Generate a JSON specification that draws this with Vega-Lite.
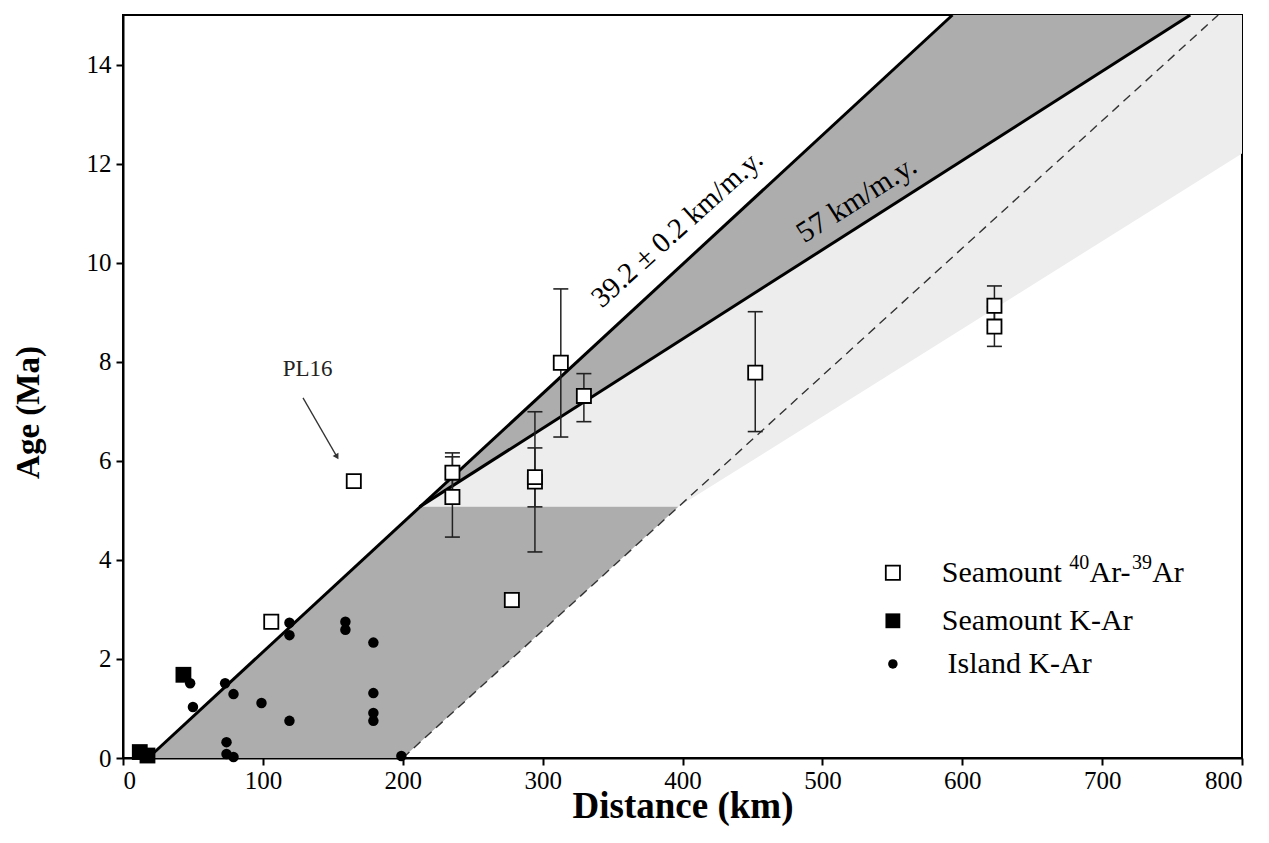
{
  "$schema": "https://vega.github.io/schema/vega-lite/v6.json",
  "width": 1119,
  "height": 743,
  "autosize": {"type": "none"},
  "padding": {"left": 123, "top": 15, "right": 27, "bottom": 85},
  "background": "white",
  "config": {
    "font": "Liberation Serif",
    "view": {"stroke": "black", "strokeWidth": 2},
    "axis": {
      "grid": false,
      "domainColor": "black",
      "domainWidth": 2,
      "tickColor": "black",
      "tickWidth": 2,
      "tickSize": 7,
      "labelFont": "Liberation Serif",
      "labelFontSize": 25,
      "labelColor": "black",
      "titleFont": "Liberation Serif",
      "titleFontWeight": "bold",
      "titleColor": "black"
    }
  },
  "datasets": {
    "regions": [
      {"region": "light", "km": 212, "lo": 5.07, "hi": 5.07},
      {"region": "light", "km": 397, "lo": 5.07, "hi": 8.403},
      {"region": "light", "km": 763, "lo": 11.548, "hi": 15},
      {"region": "light", "km": 800, "lo": 12.203, "hi": 15},
      {"region": "dark1", "km": 18, "lo": 0, "hi": 0},
      {"region": "dark1", "km": 200, "lo": 0, "hi": 4.748},
      {"region": "dark1", "km": 212, "lo": 0.309, "hi": 5.07},
      {"region": "dark1", "km": 397, "lo": 5.07, "hi": 5.07},
      {"region": "dark2", "km": 212, "lo": 5.07, "hi": 5.07},
      {"region": "dark2", "km": 593, "lo": 11.935, "hi": 15},
      {"region": "dark2", "km": 763, "lo": 15, "hi": 15}
    ],
    "lines": [
      {"line": "39.2", "km": 18, "age": 0},
      {"line": "39.2", "km": 593, "age": 15},
      {"line": "57", "km": 212, "age": 5.07},
      {"line": "57", "km": 763, "age": 15}
    ],
    "dashed": [
      {"km": 200, "age": 0},
      {"km": 783, "age": 15}
    ],
    "arar": [
      {"km": 106, "age": 2.75},
      {"km": 165, "age": 5.59},
      {"km": 278, "age": 3.19},
      {"km": 235.5, "age": 5.27, "lo": 4.46, "hi": 6.08},
      {"km": 235.5, "age": 5.76, "lo": 5.36, "hi": 6.16},
      {"km": 294.5, "age": 5.58, "lo": 4.16, "hi": 6.99},
      {"km": 294.5, "age": 5.67, "lo": 5.07, "hi": 6.26},
      {"km": 313, "age": 7.98, "lo": 6.48, "hi": 9.47},
      {"km": 329.5, "age": 7.31, "lo": 6.79, "hi": 7.76},
      {"km": 452, "age": 7.78, "lo": 6.59, "hi": 9.01},
      {"km": 623, "age": 9.13, "lo": 8.73, "hi": 9.53},
      {"km": 623, "age": 8.71, "lo": 8.31, "hi": 9.11}
    ],
    "kar": [
      {"km": 12, "age": 0.12},
      {"km": 17.5, "age": 0.05},
      {"km": 43.2, "age": 1.68}
    ],
    "island": [
      {"km": 48, "age": 1.51},
      {"km": 50, "age": 1.03},
      {"km": 73, "age": 1.51},
      {"km": 79, "age": 1.29},
      {"km": 99, "age": 1.11},
      {"km": 119, "age": 2.73},
      {"km": 119, "age": 2.48},
      {"km": 119, "age": 0.75},
      {"km": 159, "age": 2.75},
      {"km": 159, "age": 2.59},
      {"km": 179, "age": 2.33},
      {"km": 179, "age": 1.31},
      {"km": 179, "age": 0.91},
      {"km": 179, "age": 0.75},
      {"km": 74, "age": 0.32},
      {"km": 74, "age": 0.08},
      {"km": 79, "age": 0.02},
      {"km": 199, "age": 0.04}
    ],
    "legend": [
      {"kind": "open", "km": 550.4, "age": 3.74},
      {"kind": "filled", "km": 550.4, "age": 2.77},
      {"kind": "dot", "km": 550.4, "age": 1.9}
    ],
    "legendText": [
      {"part": "normal", "km": 585.4, "age": 3.74, "label": "Seamount"},
      {"part": "sup", "km": 676.5, "age": 3.74, "label": "40"},
      {"part": "normal", "km": 691.0, "age": 3.74, "label": "Ar-"},
      {"part": "sup", "km": 721.3, "age": 3.74, "label": "39"},
      {"part": "normal", "km": 735.8, "age": 3.74, "label": "Ar"},
      {"part": "normal", "km": 585.4, "age": 2.77, "label": "Seamount K-Ar"},
      {"part": "normal", "km": 589.5, "age": 1.9, "label": "Island K-Ar"}
    ],
    "arrow": [
      {"km": 128.7, "age": 7.27},
      {"km": 153, "age": 6.08}
    ]
  },
  "layer": [
    {
      "data": {"name": "regions"},
      "mark": {"type": "area", "opacity": 1},
      "encoding": {
        "x": {
          "field": "km", "type": "quantitative",
          "scale": {"domain": [0, 800], "nice": false, "zero": false},
          "axis": {"values": [0, 100, 200, 300, 400, 500, 600, 700, 800], "labelPadding": 3, "titleFontSize": 37, "titleY": 59, "titleBaseline": "alphabetic"},
          "title": "Distance (km)"
        },
        "y": {
          "field": "lo", "type": "quantitative",
          "scale": {"domain": [0, 15], "nice": false, "zero": false},
          "axis": {"values": [0, 2, 4, 6, 8, 10, 12, 14], "labelPadding": 5, "titleFontSize": 33, "titleAngle": -90, "titleX": -95, "titleY": 397, "titleAlign": "center", "titleBaseline": "middle"},
          "title": "Age (Ma)"
        },
        "y2": {"field": "hi"},
        "color": {"field": "region", "type": "nominal", "scale": {"domain": ["dark1", "dark2", "light"], "range": ["#adadad", "#adadad", "#ededed"]}, "legend": null}
      }
    },
    {
      "data": {"name": "dashed"},
      "mark": {"type": "line", "color": "#333333", "strokeWidth": 1.4, "strokeDash": [9, 6]},
      "encoding": {
        "x": {"field": "km", "type": "quantitative"},
        "y": {"field": "age", "type": "quantitative"}
      }
    },
    {
      "data": {"name": "lines"},
      "mark": {"type": "line", "color": "black", "strokeWidth": 3},
      "encoding": {
        "x": {"field": "km", "type": "quantitative"},
        "y": {"field": "age", "type": "quantitative"},
        "detail": {"field": "line", "type": "nominal"}
      }
    },
    {
      "data": {"name": "arrow"},
      "mark": {"type": "line", "color": "#333333", "strokeWidth": 1.3},
      "encoding": {
        "x": {"field": "km", "type": "quantitative"},
        "y": {"field": "age", "type": "quantitative"}
      }
    },
    {
      "data": {"name": "arrow"},
      "transform": [{"filter": "datum.age < 7"}],
      "mark": {"type": "point", "shape": "triangle-up", "angle": 150, "size": 45, "filled": true, "color": "#333333", "opacity": 1},
      "encoding": {
        "x": {"field": "km", "type": "quantitative"},
        "y": {"field": "age", "type": "quantitative"}
      }
    },
    {
      "data": {"name": "arar"},
      "transform": [{"filter": "isValid(datum.lo)"}],
      "mark": {"type": "rule", "color": "#222222", "strokeWidth": 1.5},
      "encoding": {
        "x": {"field": "km", "type": "quantitative"},
        "y": {"field": "lo", "type": "quantitative"},
        "y2": {"field": "hi"}
      }
    },
    {
      "data": {"name": "arar"},
      "transform": [{"filter": "isValid(datum.lo)"}],
      "mark": {"type": "tick", "orient": "horizontal", "size": 15, "thickness": 1.6, "color": "#222222", "opacity": 1},
      "encoding": {
        "x": {"field": "km", "type": "quantitative"},
        "y": {"field": "lo", "type": "quantitative"}
      }
    },
    {
      "data": {"name": "arar"},
      "transform": [{"filter": "isValid(datum.hi)"}],
      "mark": {"type": "tick", "orient": "horizontal", "size": 15, "thickness": 1.6, "color": "#222222", "opacity": 1},
      "encoding": {
        "x": {"field": "km", "type": "quantitative"},
        "y": {"field": "hi", "type": "quantitative"}
      }
    },
    {
      "data": {"name": "island"},
      "mark": {"type": "point", "shape": "circle", "filled": true, "color": "black", "size": 110, "opacity": 1},
      "encoding": {
        "x": {"field": "km", "type": "quantitative"},
        "y": {"field": "age", "type": "quantitative"}
      }
    },
    {
      "data": {"name": "kar"},
      "mark": {"type": "point", "shape": "square", "filled": true, "color": "black", "size": 250, "opacity": 1},
      "encoding": {
        "x": {"field": "km", "type": "quantitative"},
        "y": {"field": "age", "type": "quantitative"}
      }
    },
    {
      "data": {"name": "arar"},
      "mark": {"type": "point", "shape": "square", "fill": "white", "stroke": "black", "strokeWidth": 1.8, "size": 200, "opacity": 1, "fillOpacity": 1},
      "encoding": {
        "x": {"field": "km", "type": "quantitative"},
        "y": {"field": "age", "type": "quantitative"}
      }
    },
    {
      "data": {"values": [{"km": 400.5, "age": 10.55, "label": "39.2 ± 0.2 km/m.y."}]},
      "mark": {"type": "text", "font": "Liberation Serif", "fontSize": 29, "angle": -42, "align": "center", "baseline": "alphabetic", "color": "black"},
      "encoding": {
        "x": {"field": "km", "type": "quantitative"},
        "y": {"field": "age", "type": "quantitative"},
        "text": {"field": "label"}
      }
    },
    {
      "data": {"values": [{"km": 528, "age": 11.12, "label": "57 km/m.y."}]},
      "mark": {"type": "text", "font": "Liberation Serif", "fontSize": 30, "angle": -32.5, "align": "center", "baseline": "alphabetic", "color": "black"},
      "encoding": {
        "x": {"field": "km", "type": "quantitative"},
        "y": {"field": "age", "type": "quantitative"},
        "text": {"field": "label"}
      }
    },
    {
      "data": {"values": [{"km": 132, "age": 7.86, "label": "PL16"}]},
      "mark": {"type": "text", "font": "Liberation Serif", "fontSize": 23, "align": "center", "baseline": "middle", "color": "#222222"},
      "encoding": {
        "x": {"field": "km", "type": "quantitative"},
        "y": {"field": "age", "type": "quantitative"},
        "text": {"field": "label"}
      }
    },
    {
      "data": {"name": "legend"},
      "transform": [{"filter": "datum.kind == 'open'"}],
      "mark": {"type": "point", "shape": "square", "fill": "white", "stroke": "black", "strokeWidth": 1.8, "size": 200, "opacity": 1},
      "encoding": {
        "x": {"field": "km", "type": "quantitative"},
        "y": {"field": "age", "type": "quantitative"}
      }
    },
    {
      "data": {"name": "legend"},
      "transform": [{"filter": "datum.kind == 'filled'"}],
      "mark": {"type": "point", "shape": "square", "filled": true, "color": "black", "size": 220, "opacity": 1},
      "encoding": {
        "x": {"field": "km", "type": "quantitative"},
        "y": {"field": "age", "type": "quantitative"}
      }
    },
    {
      "data": {"name": "legend"},
      "transform": [{"filter": "datum.kind == 'dot'"}],
      "mark": {"type": "point", "shape": "circle", "filled": true, "color": "black", "size": 90, "opacity": 1},
      "encoding": {
        "x": {"field": "km", "type": "quantitative"},
        "y": {"field": "age", "type": "quantitative"}
      }
    },
    {
      "data": {"name": "legendText"},
      "transform": [{"filter": "datum.part == 'normal'"}],
      "mark": {"type": "text", "font": "Liberation Serif", "fontSize": 30, "align": "left", "baseline": "middle", "color": "black"},
      "encoding": {
        "x": {"field": "km", "type": "quantitative"},
        "y": {"field": "age", "type": "quantitative"},
        "text": {"field": "label"}
      }
    },
    {
      "data": {"name": "legendText"},
      "transform": [{"filter": "datum.part == 'sup'"}],
      "mark": {"type": "text", "font": "Liberation Serif", "fontSize": 20, "align": "left", "baseline": "middle", "dy": -10, "color": "black"},
      "encoding": {
        "x": {"field": "km", "type": "quantitative"},
        "y": {"field": "age", "type": "quantitative"},
        "text": {"field": "label"}
      }
    }
  ]
}
